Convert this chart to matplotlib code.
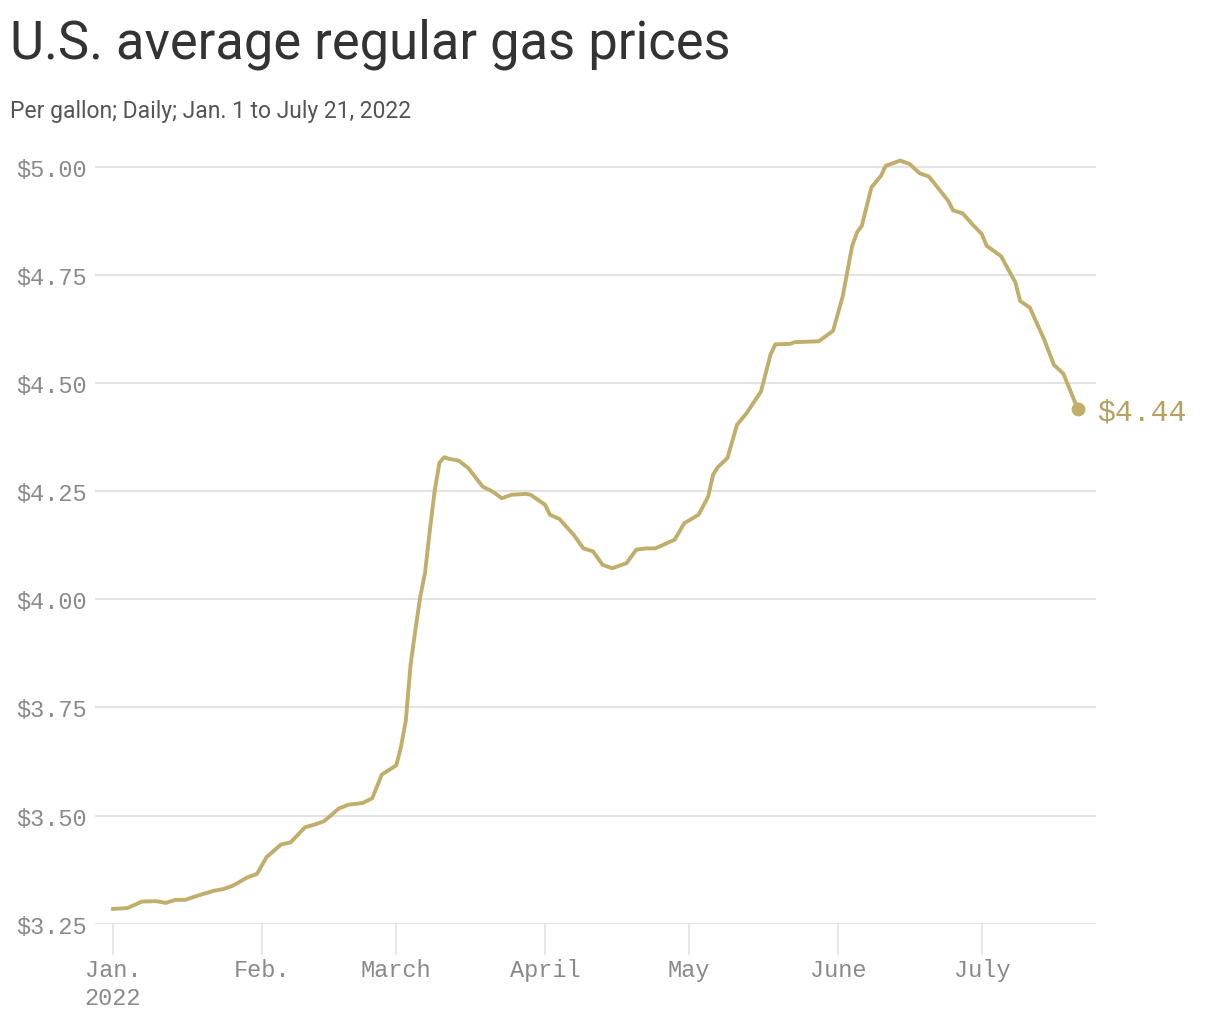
import matplotlib
matplotlib.use("Agg")
import matplotlib.pyplot as plt
import matplotlib.dates as mdates
import numpy as np

# Values (AAA daily average, $ per gallon)
dates = [
    "2022-01-01", "2022-01-04", "2022-01-07", "2022-01-10", "2022-01-12",
    "2022-01-14", "2022-01-16", "2022-01-19", "2022-01-22", "2022-01-24",
    "2022-01-26", "2022-01-29", "2022-01-31", "2022-02-02", "2022-02-05",
    "2022-02-07", "2022-02-10", "2022-02-12", "2022-02-14", "2022-02-17",
    "2022-02-19", "2022-02-22", "2022-02-24", "2022-02-26", "2022-03-01",
    "2022-03-02", "2022-03-03", "2022-03-04", "2022-03-05", "2022-03-06",
    "2022-03-07", "2022-03-08", "2022-03-09", "2022-03-10", "2022-03-11",
    "2022-03-12", "2022-03-14", "2022-03-16", "2022-03-19", "2022-03-21",
    "2022-03-23", "2022-03-25", "2022-03-28", "2022-03-29", "2022-04-01",
    "2022-04-02", "2022-04-04", "2022-04-07", "2022-04-09", "2022-04-11",
    "2022-04-13", "2022-04-15", "2022-04-18", "2022-04-20", "2022-04-22",
    "2022-04-24", "2022-04-26", "2022-04-28", "2022-04-30", "2022-05-03",
    "2022-05-05", "2022-05-06", "2022-05-07", "2022-05-09", "2022-05-11",
    "2022-05-13", "2022-05-16", "2022-05-18", "2022-05-19", "2022-05-22",
    "2022-05-23", "2022-05-28", "2022-05-30", "2022-05-31", "2022-06-02",
    "2022-06-04", "2022-06-05", "2022-06-06", "2022-06-08", "2022-06-10",
    "2022-06-11", "2022-06-14", "2022-06-16", "2022-06-18", "2022-06-20",
    "2022-06-24", "2022-06-25", "2022-06-27", "2022-06-29", "2022-07-01",
    "2022-07-02", "2022-07-03", "2022-07-05", "2022-07-08", "2022-07-09",
    "2022-07-11", "2022-07-14", "2022-07-16", "2022-07-18", "2022-07-21",
]
prices = [
    3.284, 3.286, 3.301, 3.302, 3.298,
    3.305, 3.305, 3.316, 3.326, 3.330,
    3.338, 3.357, 3.365, 3.404, 3.433,
    3.438, 3.473, 3.479, 3.487, 3.516,
    3.525, 3.529, 3.540, 3.595, 3.616,
    3.659, 3.720, 3.850, 3.930, 4.006,
    4.061, 4.160, 4.250, 4.316, 4.329,
    4.325, 4.321, 4.304, 4.261, 4.250,
    4.234, 4.242, 4.244, 4.242, 4.219,
    4.196, 4.186, 4.149, 4.118, 4.111,
    4.080, 4.072, 4.084, 4.115, 4.118,
    4.118, 4.128, 4.138, 4.176, 4.196,
    4.238, 4.288, 4.306, 4.327, 4.404,
    4.431, 4.481, 4.567, 4.590, 4.591,
    4.595, 4.597, 4.613, 4.621, 4.700,
    4.818, 4.849, 4.864, 4.953, 4.980,
    5.003, 5.015, 5.007, 4.986, 4.978,
    4.922, 4.900, 4.893, 4.868, 4.845,
    4.818, 4.810, 4.794, 4.733, 4.690,
    4.675, 4.601, 4.543, 4.522, 4.440,
]
month_ticks = ["2022-01-01", "2022-02-01", "2022-03-01", "2022-04-01",
               "2022-05-01", "2022-06-01", "2022-07-01"]
month_labels = ["Jan.\n2022", "Feb.", "March", "April", "May", "June", "July"]
y_ticks = [3.25, 3.50, 3.75, 4.00, 4.25, 4.50, 4.75, 5.00]

LINE = "#c1ae6b"
LABEL_GOLD = "#b5a160"
GRID = "#e3e3e3"
TICK_TXT = "#8a8a8a"
MONO = ["Liberation Mono", "DejaVu Sans Mono"]

x = np.array(dates, dtype="datetime64[D]")
y = np.array(prices)

fig = plt.figure(figsize=(12.2, 10.2), dpi=100)
ax = fig.add_axes([0.0779, 0.0935, 0.8205, 0.7629])

ax.plot(x, y, color=LINE, lw=2.8, solid_joinstyle="round", zorder=3)
ax.plot(x[-1], y[-1], "o", color=LINE, ms=9, zorder=4)
ax.annotate(f"${y[-1]:.2f}", (mdates.date2num(x[-1]), y[-1]),
            xytext=(14, -2), textcoords="offset points", va="center",
            ha="left", fontsize=21.5, color=LABEL_GOLD, family=MONO,
            annotation_clip=False)

x0 = mdates.date2num(np.datetime64("2022-01-01"))
ax.set_xlim(x0 - 3.75, x0 + 204.8)
ax.set_ylim(3.25, 5.05)

ax.set_yticks(y_ticks)
ax.set_yticklabels([f"${v:.2f}" for v in y_ticks])
ax.set_xticks(mdates.date2num(np.array(month_ticks, dtype="datetime64[D]")))
ax.set_xticklabels(month_labels, linespacing=1.25)

ax.grid(axis="y", color=GRID, lw=1.5, zorder=0)
for s in ax.spines.values():
    s.set_visible(False)
ax.tick_params(axis="y", length=0, pad=6, labelsize=17, labelcolor=TICK_TXT)
ax.tick_params(axis="x", length=22, width=1.2, color=GRID, pad=3,
               labelsize=17, labelcolor=TICK_TXT)
for lab in ax.get_xticklabels() + ax.get_yticklabels():
    lab.set_family(MONO)

fig.text(0.008, 0.957, "U.S. average regular gas prices", fontsize=37.8,
         color="#333333", family=["Roboto", "DejaVu Sans"], va="center")
fig.text(0.008, 0.891, "Per gallon; Daily; Jan. 1 to July 21, 2022",
         fontsize=16.5, color="#555555", family=["Roboto", "DejaVu Sans"],
         va="center")

fig.savefig("out.png", dpi=100, facecolor="white")
